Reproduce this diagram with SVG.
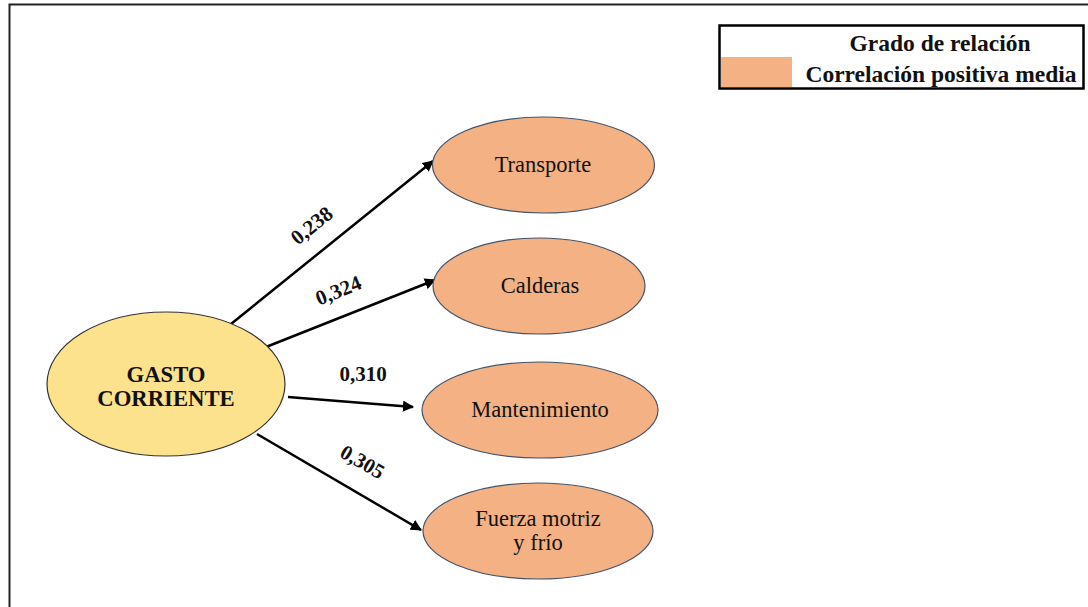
<svg xmlns="http://www.w3.org/2000/svg" width="1088" height="607" viewBox="0 0 1088 607">
<style>
.tgt{fill:#f4b183;stroke:#44546a;stroke-width:1.2}
.src{fill:#fde28e;stroke:#333;stroke-width:1.2}
text{font-family:"Liberation Serif","Times New Roman",Times,"DejaVu Serif",serif}
.nt{font-size:22.5px;fill:#111;text-anchor:middle}
.bt{font-weight:bold;fill:#111}
.lbl{font-weight:bold;font-size:21px;fill:#111;text-anchor:middle}
.con{stroke:#000;stroke-width:2.5;fill:none;marker-end:url(#ah)}
</style>
<defs>
<marker id="ah" viewBox="0 0 10 10" refX="9" refY="5" markerWidth="4.5" markerHeight="4.5" markerUnits="strokeWidth" orient="auto">
<path d="M0,0 L10,5 L0,10 z" fill="#000"/>
</marker>
</defs>
<rect width="1088" height="607" fill="#fff"/>
<g id="frame"><path d="M9.5,607 V4.5 H1088" fill="none" stroke="#222" stroke-width="2"/></g>
<g id="legend">
<rect x="719.5" y="25.5" width="364" height="63" fill="#fff" stroke="#000" stroke-width="2.5"/>
<rect x="721" y="57" width="71" height="30" fill="#f4b183"/>
<text class="bt" x="940" y="51" font-size="23.5" text-anchor="middle">Grado de relación</text>
<text class="bt" x="941" y="82" font-size="23.5" text-anchor="middle">Correlación positiva media</text>
</g>
<g id="connectors">
<line class="con" x1="231" y1="324" x2="433" y2="161"/>
<line class="con" x1="266" y1="347" x2="435" y2="280"/>
<line class="con" x1="288" y1="397" x2="413" y2="407"/>
<line class="con" x1="257" y1="434" x2="421" y2="530"/>
<text class="lbl" transform="translate(316,231) rotate(-39)">0,238</text>
<text class="lbl" transform="translate(341,297) rotate(-22)">0,324</text>
<text class="lbl" x="363" y="381">0,310</text>
<text class="lbl" transform="translate(359,468) rotate(30)">0,305</text>
</g>
<g id="gasto">
<ellipse class="src" cx="166" cy="384" rx="119" ry="72"/>
<text class="bt" x="166" y="382" font-size="22.7" text-anchor="middle">GASTO</text>
<text class="bt" x="166" y="406" font-size="22.7" text-anchor="middle">CORRIENTE</text>
</g>
<g id="transporte">
<ellipse class="tgt" cx="543.5" cy="165" rx="111" ry="48"/>
<text class="nt" x="543" y="172">Transporte</text>
</g>
<g id="calderas">
<ellipse class="tgt" cx="539" cy="286" rx="106" ry="48"/>
<text class="nt" x="540" y="293">Calderas</text>
</g>
<g id="mantenimiento">
<ellipse class="tgt" cx="540" cy="410" rx="118" ry="48"/>
<text class="nt" x="540" y="417">Mantenimiento</text>
</g>
<g id="fuerza">
<ellipse class="tgt" cx="538" cy="531" rx="115" ry="48"/>
<text class="nt" x="538" y="526">Fuerza motriz</text>
<text class="nt" x="538" y="550">y frío</text>
</g>
</svg>
